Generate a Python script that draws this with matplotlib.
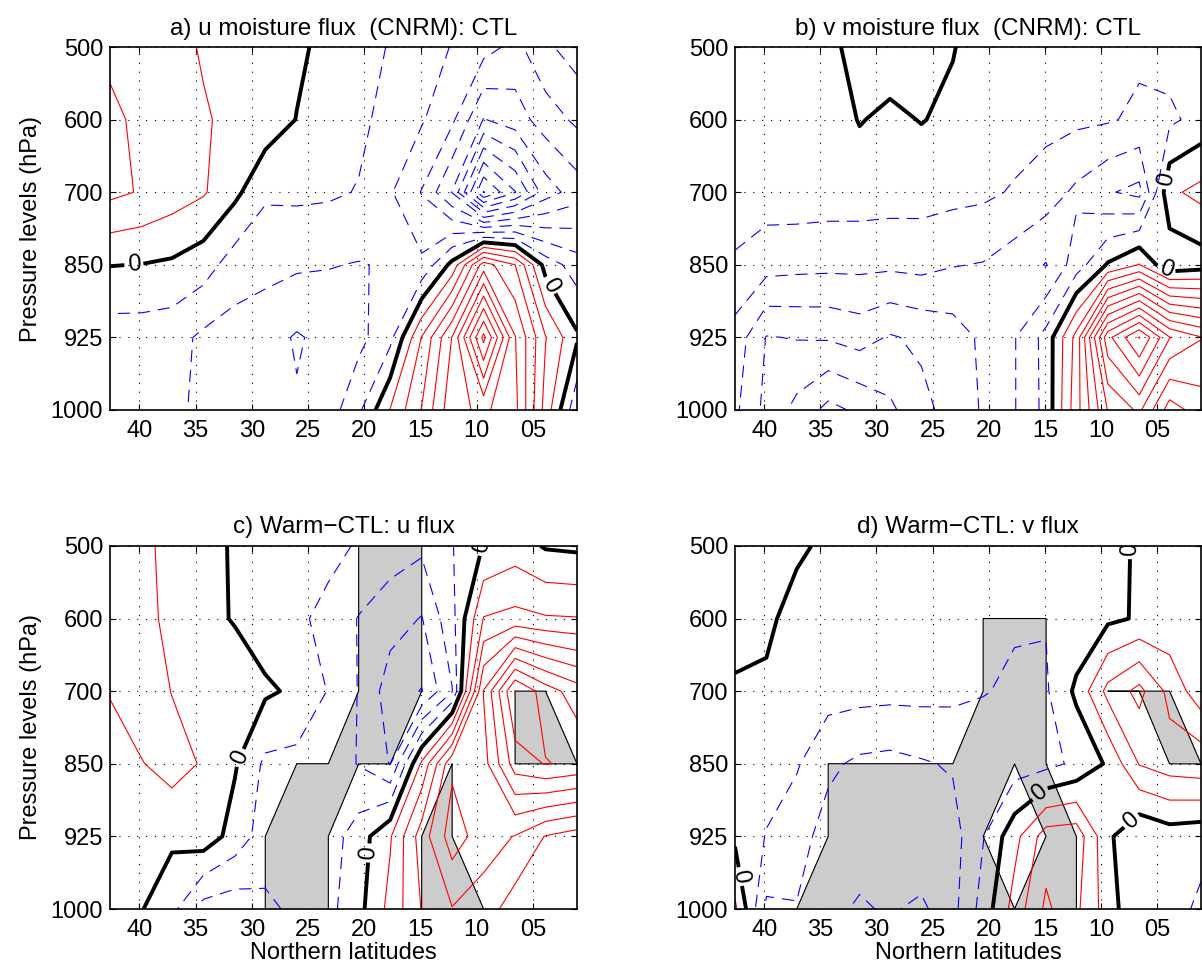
import numpy as np
import matplotlib
matplotlib.use('Agg')
import matplotlib.pyplot as plt

plt.rcParams['font.family'] = ['Liberation Sans', 'DejaVu Sans']

# grid latitudes (42.6N .. 1.1N) and pressure levels
lat = [42.6, 39.8, 37.1, 34.3, 31.5, 28.8, 26.0, 23.2, 20.5, 17.7, 14.9, 12.2, 9.4, 6.6, 3.9, 1.1]
lev_names = ['500', '600', '700', '850', '925', '1000']
xtick_vals = [40, 35, 30, 25, 20, 15, 10, 5]
xtick_names = ['40', '35', '30', '25', '20', '15', '10', '05']

# a) u moisture flux CTL (rows = 500..1000 hPa)
u_ctl = [
    [1.9, 1.7, 1.35, 0.9, 0.7, 0.5, 0.2, -0.3, -0.7, -1.05, -1.5, -2.05, -2.6, -3.3, -2.2, -1.5],
    [2.1, 1.9, 1.5, 1.1, 0.75, 0.6, -0.03, -0.4, -0.8, -1.3, -1.9, -2.8, -5.05, -4.5, -3.5, -2.8],
    [2.24, 1.92, 1.5, 1.1, 0.25, -0.85, -0.8, -0.85, -1.05, -1.9, -3.05, -5.05, -10.05, -8.05, -5.5, -4.5],
    [0.03, -0.02, -0.15, -0.54, -1.5, -1.7, -1.85, -1.95, -2.05, -1.9, -1.8, 0.3, 4.5, 3.0, -0.4, -1.5],
    [-1.5, -1.5, -1.6, -2.2, -2.4, -2.6, -3.1, -2.7, -2.3, -1.3, 2.05, 5.05, 10.3, 5.05, 2.05, 0.15],
    [-1.3, -1.6, -1.9, -2.1, -2.4, -2.7, -2.9, -2.5, -1.2, 1.05, 3.05, 5.7, 6.2, 5.3, 1.6, -1.8],
]

# b) v moisture flux CTL
v_ctl = [
    [-0.3, -0.35, -0.4, -0.4, 0.58, 0.5, 0.45, 0.05, -0.45, -0.5, -0.55, -0.6, -0.7, -0.8, -0.6, -0.4],
    [-0.4, -0.45, -0.5, -0.5, 0.05, -0.2, 0.04, -0.2, -0.4, -0.55, -0.7, -0.8, -0.9, -1.2, -1.2, -0.65],
    [-0.6, -0.5, -0.45, -0.5, -0.5, -0.55, -0.6, -0.7, -0.8, -1.1, -1.5, -2.2, -2.9, -3.3, 0.8, 1.3],
    [-1.1, -1.6, -1.7, -1.75, -1.75, -1.8, -1.7, -1.95, -2.05, -2.5, -3.05, -1.5, 0.1, 1.05, -0.8, -0.5],
    [-2.4, -4.05, -3.95, -3.9, -3.6, -4.1, -3.8, -3.5, -2.8, -2.05, -0.66, 2.35, 8.7, 11.05, 8.05, 7.05],
    [-2.8, -4.3, -5.3, -6.3, -5.8, -5.2, -4.3, -3.6, -2.9, -2.05, -0.7, 2.6, 6.05, 7.2, 4.5, 5.5],
]

# c) Warm-CTL u flux
u_diff = [
    [1.5, 1.4, 0.5, 0.3, -0.1, -0.4, -0.5, -0.7, -1.1, -1.5, -1.8, -1.05, 0.05, 0.5, -0.1, -0.2],
    [1.6, 1.5, 0.6, 0.4, -0.1, -0.5, -0.8, -1.3, -2.05, -2.6, -3.05, -1.33, 2.05, 2.3, 2.1, 2.05],
    [1.1, 1.6, 0.97, 0.9, 0.8, 0.15, -0.17, -1.05, -2.05, -3.5, -4.05, -2.05, 5.05, 9.05, 7.5, 6.5],
    [0.2, 0.95, 1.4, 0.9, 0.1, -1.2, -1.3, -1.5, -2.05, -3.05, 1.2, 4.8, 4.6, 7.5, 8.05, 7.8],
    [0.4, 0.5, 0.2, 0.6, -0.4, -1.5, -1.8, -1.5, -0.5, 0.9, 3.5, 5.5, 4.5, 3.95, 2.95, 2.5],
    [0.3, 0.05, -0.7, -2.4, -2.6, -2.2, -1.8, -1.3, -0.3, 1.3, 3.05, 3.95, 3.5, 2.5, 2.4, 2.3],
]
u_sig = [
    [0, 0, 0, 0, 0, 0, 0, 0, 1, 1, 1, 0, 0, 0, 0, 0],
    [0, 0, 0, 0, 0, 0, 0, 0, 1, 1, 1, 0, 0, 0, 0, 0],
    [0, 0, 0, 0, 0, 0, 0, 0, 1, 1, 1, 0, 0, 1, 1, 0],
    [0, 0, 0, 0, 0, 0, 1, 1, 1, 1, 0, 1, 0, 1, 1, 1],
    [0, 0, 0, 0, 0, 1, 1, 1, 0, 0, 1, 1, 0, 0, 0, 0],
    [0, 0, 0, 0, 0, 1, 1, 1, 0, 0, 1, 1, 1, 0, 0, 0],
]

# d) Warm-CTL v flux
v_diff = [
    [0.8, 0.6, 0.3, -0.35, -0.4, -0.4, -0.4, -0.45, -0.5, -0.55, -0.6, -0.55, -0.5, 0.2, 0.5, 0.6],
    [0.6, 0.35, -0.65, -0.7, -0.6, -0.55, -0.5, -0.55, -0.7, -0.9, -0.95, -0.7, -0.2, 0.1, 0.3, 0.2],
    [-0.2, -0.3, -0.6, -0.6, -0.65, -0.7, -0.7, -0.75, -0.95, -1.15, -1.12, 0.2, 2.3, 3.3, 1.7, 0.4],
    [-0.3, -0.6, -0.9, -1.8, -2.2, -2.3, -2.1, -1.9, -1.6, -1.5, -1.3, -0.8, 0.14, 2.05, 2.5, 2.67],
    [-0.2, -1.05, -1.6, -2.4, -2.6, -2.5, -2.2, -2.4, -1.05, 0.67, 2.5, 2.6, 0.2, -0.9, -0.5, -0.67],
    [1.2, -2.2, -2.05, -2.8, -3.1, -2.9, -3.2, -2.3, -0.6, 1.4, 3.2, 2.2, 0.5, -0.93, -0.6, -1.2],
]
v_sig = [
    [0, 0, 0, 0, 0, 0, 0, 0, 0, 0, 0, 0, 0, 0, 0, 0],
    [0, 0, 0, 0, 0, 0, 0, 0, 1, 1, 1, 0, 0, 0, 0, 0],
    [0, 0, 0, 0, 0, 0, 0, 0, 1, 1, 1, 0, 1, 1, 1, 0],
    [0, 0, 0, 1, 1, 1, 1, 1, 1, 1, 1, 0, 0, 0, 1, 1],
    [0, 0, 0, 1, 1, 1, 1, 1, 1, 0, 1, 1, 0, 0, 0, 0],
    [0, 0, 1, 1, 1, 1, 1, 1, 1, 1, 1, 1, 0, 0, 0, 0],
]

neg_levels = list(range(-12, 0))
pos_levels = list(range(1, 13))
FS = 17


def draw_panel(ax, data, title, sig=None, lab_pos=()):
    X, Y = np.meshgrid(lat, np.arange(len(lev_names)))
    Z = np.array(data, dtype=float)
    if sig is not None:
        S = np.array(sig, dtype=float)
        ax.contourf(X, Y, S, levels=[0.999, 2], colors=['#cccccc'], zorder=1)
        ax.contour(X, Y, S, levels=[0.999], colors='k', linewidths=0.8, zorder=1.5)
    ax.contour(X, Y, Z, levels=neg_levels, colors='b', linewidths=0.8,
               linestyles=[(0, (11, 7))], zorder=2)
    ax.contour(X, Y, Z, levels=pos_levels, colors='r', linewidths=0.8,
               linestyles='solid', zorder=2)
    cs0 = ax.contour(X, Y, Z, levels=[0], colors='k', linewidths=2.8, zorder=3)
    if lab_pos:
        ax.clabel(cs0, fmt={0: '0'}, manual=list(lab_pos), fontsize=FS,
                  inline=True, inline_spacing=3)

    ax.set_xlim(lat[0], lat[-1])
    ax.set_ylim(len(lev_names) - 1, 0)
    ax.set_xticks(xtick_vals)
    ax.set_xticklabels(xtick_names)
    ax.set_yticks(range(len(lev_names)))
    ax.set_yticklabels(lev_names)
    ax.tick_params(labelsize=FS, direction='in', length=4, top=True, right=True)
    ax.tick_params(axis='x', pad=7)
    ax.tick_params(axis='y', pad=5)
    ax.set_axisbelow(True)
    ax.grid(True, color='k', linestyle=(0, (1, 7)), linewidth=0.8)
    for s in ax.spines.values():
        s.set_linewidth(1.2)
    ax.set_title(title, fontsize=17.5, pad=9)


fig = plt.figure(figsize=(12.02, 9.76), dpi=100)
W, H = 1202.0, 976.0
ax_a = fig.add_axes([110 / W, (976 - 410) / H, 467 / W, 363 / H])
ax_b = fig.add_axes([735 / W, (976 - 410) / H, 466 / W, 363 / H])
ax_c = fig.add_axes([110 / W, (976 - 909) / H, 467 / W, 363 / H])
ax_d = fig.add_axes([735 / W, (976 - 909) / H, 466 / W, 363 / H])

draw_panel(ax_a, u_ctl, 'a) u moisture flux  (CNRM): CTL',
           lab_pos=[(40.5, 2.93), (3.45, 3.28)])
draw_panel(ax_b, v_ctl, 'b) v moisture flux  (CNRM): CTL',
           lab_pos=[(4.2, 1.83), (4.2, 3.07)])
draw_panel(ax_c, u_diff, 'c) Warm\u2212CTL: u flux', sig=u_sig,
           lab_pos=[(31.0, 2.92), (19.5, 4.23), (8.4, 0.05)])
draw_panel(ax_d, v_diff, 'd) Warm\u2212CTL: v flux', sig=v_sig,
           lab_pos=[(42.0, 4.55), (15.5, 3.4), (7.4, 3.77), (7.4, 0.05)])

for ax in (ax_a, ax_c):
    ax.set_ylabel('Pressure levels (hPa)', fontsize=FS, labelpad=6)
for ax in (ax_c, ax_d):
    ax.set_xlabel('Northern latitudes', fontsize=FS, labelpad=1)

fig.savefig('out.png', dpi=100)
